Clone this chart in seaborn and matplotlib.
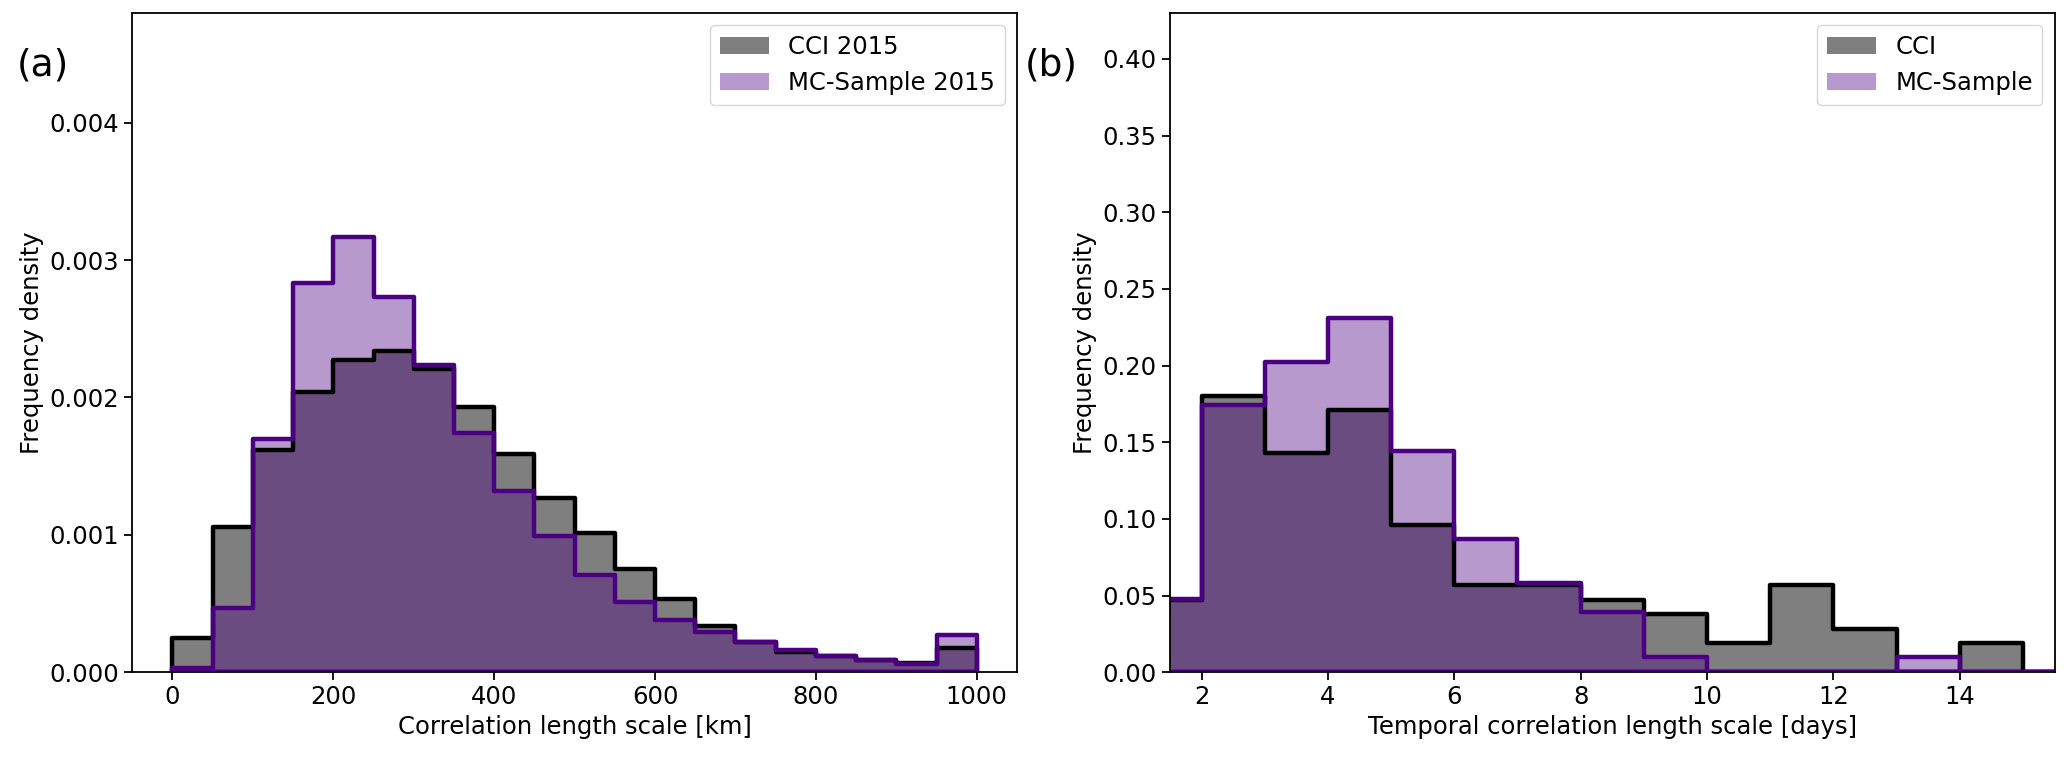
import numpy as np
import pandas as pd
import matplotlib
matplotlib.use("Agg")
import matplotlib.pyplot as plt
from matplotlib.patches import Patch
import seaborn as sns

# --------------------------------------------------
# data
# --------------------------------------------------

# (a) spatial correlation length, 50 km bins
edges_a = list(range(0, 1001, 50))
cci_2015 = [0.00025, 0.00106, 0.00162, 0.00204, 0.00227, 0.00234, 0.00221, 0.00193,
            0.00159, 0.00127, 0.00101, 0.00075, 0.00053, 0.00034, 0.00022, 0.00015,
            0.00012, 0.00009, 0.00007, 0.000175]
mc_2015 = [0.00003, 0.00047, 0.00170, 0.00283, 0.00317, 0.00273, 0.00224, 0.00174,
           0.00132, 0.00099, 0.00071, 0.00051, 0.00038, 0.00029, 0.00022, 0.00016,
           0.00012, 0.00009, 0.00006, 0.00027]

# (b) temporal correlation length, 1 day bins
edges_b = list(range(1, 17))
cci_t = [0.047, 0.180, 0.143, 0.171, 0.096, 0.057, 0.057, 0.047, 0.038, 0.019,
         0.057, 0.028, 0.0, 0.019, 0.0]
mc_t = [0.048, 0.174, 0.202, 0.231, 0.144, 0.087, 0.058, 0.039, 0.010, 0.0,
        0.0, 0.0, 0.010, 0.0, 0.0]

# --------------------------------------------------
# plotting
# --------------------------------------------------

CCI_COL = "black"
MC_COL = "indigo"
LW = 3.2
FS = 17.5

plt.rcParams.update({
    "font.size": FS,
    "axes.linewidth": 1.3,
    "xtick.major.size": 6,
    "ytick.major.size": 6,
    "xtick.major.width": 1.3,
    "ytick.major.width": 1.3,
})

fig, axes = plt.subplots(1, 2, figsize=(20.67, 7.57), dpi=100)
fig.subplots_adjust(left=0.064, right=0.994, bottom=0.112, top=0.983, wspace=0.173)


def draw_pair(ax, edges, cci, mc):
    e = np.array(edges, dtype=float)
    df = pd.DataFrame({"center": (e[:-1] + e[1:]) / 2, "cci": cci, "mc": mc})
    # fills first, then outlines so the black step shows through the purple fill
    sns.histplot(data=df, x="center", weights="cci", bins=edges, element="step",
                 fill=True, color=CCI_COL, alpha=0.5, linewidth=0, ax=ax)
    sns.histplot(data=df, x="center", weights="mc", bins=edges, element="step",
                 fill=True, color=MC_COL, alpha=0.4, linewidth=0, ax=ax)
    sns.histplot(data=df, x="center", weights="cci", bins=edges, element="step",
                 fill=True, color=CCI_COL, facecolor="none", edgecolor=CCI_COL,
                 linewidth=LW, ax=ax)
    sns.histplot(data=df, x="center", weights="mc", bins=edges, element="step",
                 fill=True, color=MC_COL, facecolor="none", edgecolor=MC_COL,
                 linewidth=LW, ax=ax)


ax = axes[0]
draw_pair(ax, edges_a, cci_2015, mc_2015)
ax.set_xlim(-50, 1050)
ax.set_ylim(0, 0.0048)
ax.set_xticks(np.arange(0, 1001, 200))
ax.set_yticks([0, 0.001, 0.002, 0.003, 0.004])
ax.set_yticklabels(["0.000", "0.001", "0.002", "0.003", "0.004"])
ax.set_xlabel("Correlation length scale [km]")
ax.set_ylabel("Frequency density")
ax.legend(handles=[Patch(facecolor=CCI_COL, alpha=0.5, label="CCI 2015"),
                   Patch(facecolor=MC_COL, alpha=0.4, label="MC-Sample 2015")],
          loc="upper right", fontsize=FS)

ax = axes[1]
draw_pair(ax, edges_b, cci_t, mc_t)
ax.set_xlim(1.5, 15.5)
ax.set_ylim(0, 0.43)
ax.set_xticks(np.arange(2, 15, 2))
ax.set_yticks(np.arange(0, 0.41, 0.05))
ax.set_yticklabels([f"{v:.2f}" for v in np.arange(0, 0.41, 0.05)])
ax.set_xlabel("Temporal correlation length scale [days]")
ax.set_ylabel("Frequency density")
ax.legend(handles=[Patch(facecolor=CCI_COL, alpha=0.5, label="CCI"),
                   Patch(facecolor=MC_COL, alpha=0.4, label="MC-Sample")],
          loc="upper right", fontsize=FS)

for a in axes:
    a.tick_params(labelsize=FS)

fig.text(0.008, 0.914, "(a)", fontsize=27, va="center")
fig.text(0.496, 0.914, "(b)", fontsize=27, va="center")

plt.savefig("out.png", dpi=100)
